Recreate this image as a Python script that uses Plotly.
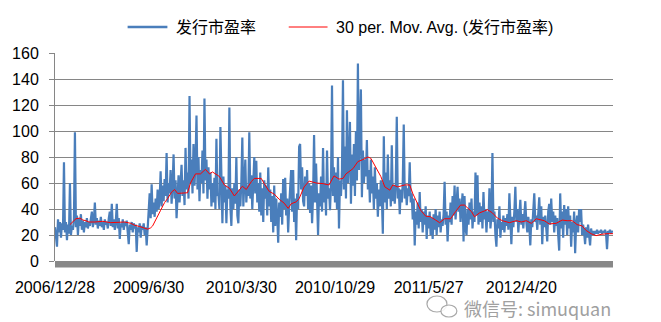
import plotly.graph_objects as go

# 发行市盈率 (IPO P/E), one value per issue, in issue order
pe_part1 = [26, 15, 11, 32, 22, 30, 18, 29, 24, 76,
            22, 30, 16, 28, 21, 60, 20, 27, 24, 32,
            99, 26, 35, 20, 33, 27, 36, 24, 31, 22,
            30, 26, 33, 25, 30, 27, 33, 38, 26, 31,
            45, 28, 33, 25, 31, 27, 34, 26, 30, 24,
            32, 28, 30, 25, 33, 38, 27, 44, 26, 32,
            24, 30, 44, 25, 33, 17, 29, 26, 32, 24,
            30, 27, 31, 20, 13, 28, 24, 30, 22, 29,
            25, 28]
pe_part2 = [7, 26, 22, 29, 18, 27, 24, 29, 20, 26,
            12, 25, 35, 52, 33, 59, 36, 45, 34, 48,
            38, 55, 40, 47, 69, 42, 58, 46, 63, 50,
            83, 45, 60, 52, 70, 44, 58, 82, 48, 62,
            33, 55, 66, 45, 58, 74, 50, 62, 43, 87,
            55, 68, 48, 127, 60, 78, 52, 90, 58, 75,
            112, 55, 80, 46, 70, 60, 85, 52, 125, 62,
            78, 48, 72, 55, 68, 42, 60, 45, 64, 40,
            94, 50]
pe_part3 = [52, 40, 103, 50, 29, 65, 45, 58, 29, 55,
            48, 118, 42, 27, 56, 40, 60, 44, 80, 35,
            29, 55, 42, 60, 95, 42, 62, 78, 45, 58,
            50, 99, 48, 66, 40, 72, 80, 52, 77, 45,
            60, 38, 68, 35, 56, 30, 62, 48, 58, 35,
            72, 42, 55, 30, 50, 22, 58, 27, 48, 35,
            14, 45, 34, 52, 28, 63, 40, 64, 35, 48,
            22, 42, 55, 70, 38, 70, 30, 48, 16, 52,
            40, 88]
pe_part4 = [90, 55, 72, 46, 42, 65, 50, 70, 40, 60,
            37, 58, 29, 50, 97, 45, 75, 40, 20, 52,
            42, 65, 38, 87, 45, 60, 35, 85, 48, 56,
            39, 60, 135, 50, 72, 45, 68, 40, 80, 25,
            62, 50, 70, 139, 55, 88, 48, 116, 60, 78,
            107, 44, 82, 58, 90, 50, 100, 62, 152, 70,
            95, 132, 49, 85, 60, 78, 65, 93, 55, 70,
            45, 78, 52, 65, 40, 72, 48, 60, 34, 55,
            42, 62]
pe_part5 = [50, 21, 96, 45, 68, 40, 82, 48, 62, 42,
            89, 46, 58, 44, 60, 111, 48, 56, 36, 55,
            45, 60, 105, 48, 58, 43, 56, 50, 76, 45,
            52, 32, 48, 12, 38, 28, 45, 25, 53, 30,
            40, 22, 38, 28, 42, 17, 35, 25, 38, 20,
            33, 17, 36, 24, 40, 20, 35, 26, 38, 22,
            32, 27, 36, 61, 28, 38, 15, 35, 30, 45,
            28, 50, 35, 58, 32, 48, 57, 38, 48, 30,
            42, 52]
pe_part6 = [15, 50, 25, 20, 40, 28, 45, 32, 48, 25,
            38, 30, 68, 35, 66, 28, 45, 30, 42, 25,
            53, 32, 40, 22, 38, 30, 56, 25, 35, 83,
            30, 38, 20, 11, 32, 25, 42, 18, 30, 24,
            35, 22, 33, 27, 36, 24, 52, 28, 13, 34,
            26, 38, 57, 30, 40, 22, 35, 47, 28, 36,
            25, 40, 46, 30, 22, 34, 27, 12, 32, 26,
            38, 52, 30, 35, 24, 38, 49, 28, 42, 13,
            34, 26]
pe_part7 = [35, 25, 15, 38, 44, 28, 48, 30, 38, 22,
            35, 27, 33, 20, 8, 52, 25, 38, 18, 43,
            28, 40, 20, 42, 25, 35, 11, 30, 22, 38,
            6, 28, 35, 22, 40, 30, 40, 20, 28, 22,
            13, 26, 18, 28, 22, 12, 25, 20, 23, 20,
            23, 21, 24, 21, 23, 22, 24, 21, 23, 22,
            24, 21, 9, 23, 22, 24, 21, 23, 22]

pe = pe_part1 + pe_part2 + pe_part3 + pe_part4 + pe_part5 + pe_part6 + pe_part7
issue_no = list(range(len(pe)))

# 30-period moving average, sampled at issue positions
ma_pos = [15, 18, 21, 25, 28, 31, 34, 40, 48, 56, 63, 70, 76, 80, 85, 90, 93, 96, 98, 100,
          103, 106, 110, 113, 117, 120, 123, 128, 133, 136, 139, 141, 146, 151, 155, 158, 163, 165, 170, 175,
          180, 185, 188, 192, 197, 200, 207, 210, 215, 220, 225, 230, 234, 237, 242, 245, 250, 255, 262, 269,
          275, 280, 285, 289, 292, 299, 304, 309, 314, 317, 322, 327, 331, 336, 339, 344, 351, 356, 359, 364,
          367, 372, 377, 382, 386, 391, 397, 402, 407, 411, 418, 421, 426, 431, 434, 439, 444, 449, 456, 463,
          468, 473, 478, 483, 488, 491, 493, 496, 503, 509, 514, 519, 524, 529, 533, 538, 543, 548, 554, 560]
ma_val = [28, 30, 32.5, 33, 31.5, 31, 30, 30, 30.5, 29.5, 30, 30, 29, 27.5, 26.5, 25.5, 24.5, 25.5, 27, 30,
          34, 39, 45, 48, 53, 55, 52, 52, 52.5, 60, 64, 67, 67, 70.5, 67, 68.5, 66, 65, 58.5, 56,
          50, 54.5, 57.5, 55, 61, 63.5, 63.5, 59.5, 53.5, 51.5, 47.5, 44.5, 40.5, 44, 45.5, 48, 57, 61.5, 60, 59.5,
          58.5, 65.5, 63, 63.5, 67, 71, 76.5, 78, 80, 79, 72.5, 65, 57, 54.5, 58.5, 57, 58.5, 58.5, 52, 44.5,
          39, 34.5, 34, 31.5, 29.5, 32.5, 32.5, 38, 43, 43, 38, 34, 37, 38.5, 39.5, 37, 33, 31, 29.5, 31,
          30, 31, 29, 32.5, 31.5, 31, 30, 28.5, 29, 31.5, 31, 31, 28, 27, 23.5, 21, 19.5, 20.5, 21, 21]
assert len(ma_pos) == len(ma_val)

tick_labels = ["2006/12/28", "2009/6/30", "2010/3/30", "2010/10/29", "2011/5/27", "2012/4/20"]
LABEL_EVERY = 93.7  # issues between category labels
tick_pos = [round(k * LABEL_EVERY) for k in range(len(tick_labels))]

SERIES_NAME = "发行市盈率"
MA_NAME = "30 per. Mov. Avg. (发行市盈率)"
BLUE = "#4A7EBB"
RED = "#FF0000"
FONT = "Liberation Sans, Arial, Noto Sans CJK SC, sans-serif"
GRID = "#868686"

# plot-area geometry in pixels, used to place the legend and watermark
L, R, T, B, W, H = 52, 48, 53, 61, 661, 322
PW, PH = W - L - R, H - T - B


def px_x(px):
    return (px - L) / PW


def px_y(py):
    return (H - B - py) / PH


fig = go.Figure()
fig.add_trace(go.Scatter(x=issue_no, y=pe, mode="lines", name=SERIES_NAME,
                         line=dict(color=BLUE, width=2.2)))
fig.add_trace(go.Scatter(x=ma_pos, y=ma_val, mode="lines", name=MA_NAME,
                         line=dict(color=RED, width=1)))

fig.update_layout(
    width=W, height=H,
    margin=dict(l=L, r=R, t=T, b=B),
    paper_bgcolor="white", plot_bgcolor="white",
    font=dict(family=FONT, size=16, color="#000000"),
    showlegend=False,
    xaxis=dict(range=[0, len(pe) - 1], showgrid=False, zeroline=False, showline=False,
               tickmode="array", tickvals=tick_pos, ticktext=tick_labels, ticks="",
               tickfont=dict(family=FONT, size=16), ticklabelstandoff=15),
    yaxis=dict(range=[0, 160], dtick=20, showgrid=True, gridcolor=GRID, gridwidth=1,
               zeroline=False, showline=True, linecolor=GRID, linewidth=1,
               ticks="outside", ticklen=5, tickcolor=GRID,
               tickfont=dict(family=FONT, size=16), ticklabelstandoff=7),
)

# heavy category-axis bar under the plot
fig.add_shape(type="rect", xref="paper", yref="paper", x0=0, x1=1, y0=0, y1=-6.5 / PH,
              fillcolor="#888888", line=dict(width=0), layer="above")

# legend row above the plot
LEG_Y = 27
for x0, x1, color, width, tx, name in [(125, 165, BLUE, 2.5, 172, SERIES_NAME),
                                       (287, 326, RED, 1, 333, MA_NAME)]:
    fig.add_shape(type="line", xref="paper", yref="paper",
                  x0=px_x(x0), x1=px_x(x1), y0=px_y(LEG_Y), y1=px_y(LEG_Y),
                  line=dict(color=color, width=width))
    fig.add_annotation(text=name, xref="paper", yref="paper", x=px_x(tx), xanchor="left",
                       y=px_y(LEG_Y), yanchor="middle", showarrow=False,
                       font=dict(family=FONT, size=16, color="#000000"))

# account watermark
fig.add_shape(type="circle", xref="paper", yref="paper", xsizemode="pixel", ysizemode="pixel",
              xanchor=px_x(436), yanchor=px_y(304),
              x0=-10, x1=10, y0=-8, y1=8, line=dict(color="#a8a8a8", width=1.2),
              fillcolor="rgba(255,255,255,0.6)")
fig.add_shape(type="circle", xref="paper", yref="paper", xsizemode="pixel", ysizemode="pixel",
              xanchor=px_x(448), yanchor=px_y(311),
              x0=-8, x1=8, y0=-6, y1=6, line=dict(color="#a8a8a8", width=1.2),
              fillcolor="rgba(255,255,255,0.85)")
fig.add_annotation(text="微信号: simuquan", xref="paper", yref="paper",
                   x=px_x(462), xanchor="left", y=px_y(308), yanchor="middle",
                   showarrow=False, borderpad=0,
                   font=dict(family="Noto Sans CJK SC, Liberation Sans, sans-serif", size=18,
                             color="#a0a0a0"))

fig.write_html("out.html")
